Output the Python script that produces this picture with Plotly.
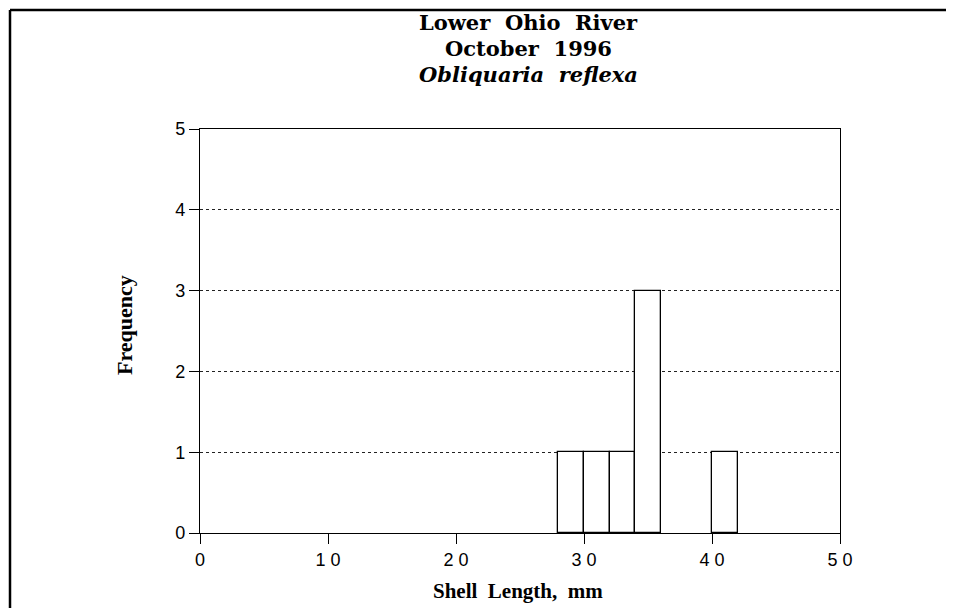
import plotly.graph_objects as go

# ---- data ----
bin_left = [28, 30, 32, 34, 40]
counts = [1, 1, 1, 3, 1]
bin_width = 2
x_ticks = [0, 10, 20, 30, 40, 50]
x_tick_labels = ["0", "1 0", "2 0", "3 0", "4 0", "5 0"]
y_ticks = [0, 1, 2, 3, 4, 5]
title_lines = ["Lower\u00a0\u00a0Ohio\u00a0\u00a0River",
               "October\u00a0\u00a01996",
               "<i>Obliquaria\u00a0\u00a0reflexa</i>"]
x_title = "Shell\u00a0\u00a0Length,\u00a0\u00a0mm"
y_title = "Frequency"

# page has an 8px body margin; work in screen pixels and convert
OFF = 8
W, H = 954 - 2 * OFF, 616 - 2 * OFF
L, R, T, B = 200 - OFF, 840 - OFF, 129 - OFF, 533 - OFF
pw, ph = R - L, B - T


def px_x(x):
    return (x - OFF - L) / pw


def px_y(y):
    return (B - (y - OFF)) / ph


fig = go.Figure()
fig.add_trace(go.Bar(
    x=bin_left, y=counts, width=bin_width, offset=0,
    marker=dict(color="white", line=dict(color="black", width=1.3)),
    hoverinfo="x+y", showlegend=False,
))

title_font = "DejaVu Serif, serif"
serif = "Liberation Serif, Times New Roman, serif"
sans = "Liberation Sans, Arial, sans-serif"

annotations = []
for txt, yc in zip(title_lines, [22, 48, 74]):
    annotations.append(dict(
        text="<b>" + txt + "</b>", x=px_x(528), y=px_y(yc), xref="paper", yref="paper",
        xanchor="center", yanchor="middle", showarrow=False,
        font=dict(family=title_font, size=21, color="black"),
    ))
annotations.append(dict(
    text="<b>" + x_title + "</b>", x=px_x(518), y=px_y(591), xref="paper", yref="paper",
    xanchor="center", yanchor="middle", showarrow=False,
    font=dict(family=serif, size=21, color="black"),
))
annotations.append(dict(
    text="<b>" + y_title + "</b>", x=px_x(124), y=px_y(325), xref="paper", yref="paper",
    xanchor="center", yanchor="middle", showarrow=False, textangle=-90,
    font=dict(family=serif, size=22, color="black"),
))

shapes = [
    dict(type="line", xref="paper", yref="paper",
         x0=px_x(10), y0=px_y(10), x1=px_x(960), y1=px_y(10),
         line=dict(color="black", width=2.5)),
    dict(type="line", xref="paper", yref="paper",
         x0=px_x(10), y0=px_y(10), x1=px_x(10), y1=px_y(620),
         line=dict(color="black", width=2.5)),
]

fig.update_layout(
    width=W, height=H, autosize=False,
    margin=dict(l=L, r=W - R, t=T, b=H - B, pad=0),
    paper_bgcolor="white", plot_bgcolor="white",
    bargap=0,
    annotations=annotations, shapes=shapes,
    font=dict(family=sans, color="black"),
)
fig.update_xaxes(
    range=[0, 50], tickvals=x_ticks, ticktext=x_tick_labels,
    ticks="outside", ticklen=10, tickwidth=1, tickcolor="black",
    showline=True, linecolor="black", linewidth=1.3, mirror=True,
    showgrid=False, zeroline=False,
    tickfont=dict(family=sans, size=18, color="black"),
)
fig.update_yaxes(
    range=[0, 5], tickvals=y_ticks,
    ticks="outside", ticklen=10, tickwidth=1, tickcolor="black",
    showline=True, linecolor="black", linewidth=1.3, mirror=True,
    showgrid=True, gridcolor="#222", gridwidth=1, griddash="dot",
    zeroline=False,
    tickfont=dict(family=sans, size=18, color="black"),
)

fig.write_html("out.html")
